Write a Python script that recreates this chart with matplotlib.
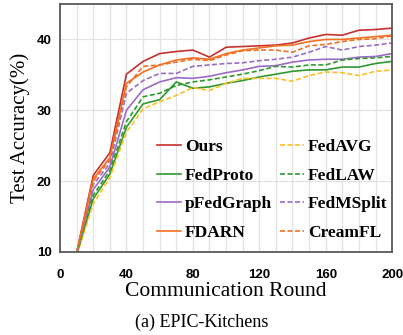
import numpy as np
import matplotlib.pyplot as plt
from matplotlib.ticker import MultipleLocator

# communication rounds
rounds = list(range(10, 201, 10))

ours = [9.9, 20.8, 24.0, 35.1, 36.9, 38.0, 38.3, 38.5, 37.5, 38.9,
        39.0, 39.1, 39.2, 39.5, 40.2, 40.7, 40.6, 41.3, 41.4, 41.6]
fedproto = [9.6, 17.5, 21.0, 27.6, 30.9, 31.5, 34.0, 33.1, 33.3, 33.8,
            34.2, 34.7, 35.1, 35.5, 35.7, 35.7, 36.1, 36.1, 36.6, 36.9]
pfedgraph = [9.7, 18.8, 22.0, 30.0, 32.9, 34.0, 34.6, 34.5, 34.8, 35.3,
             35.7, 36.2, 36.3, 36.8, 37.1, 37.2, 37.2, 37.5, 37.6, 38.0]
fdarn = [9.9, 20.3, 23.3, 33.8, 35.4, 36.4, 37.1, 37.4, 37.2, 38.0,
         38.5, 38.8, 39.1, 39.2, 39.7, 40.0, 40.0, 40.2, 40.4, 40.6]
fedavg = [9.5, 16.8, 20.5, 26.9, 30.2, 31.2, 32.1, 33.2, 32.8, 33.8,
          34.5, 34.5, 34.5, 34.1, 34.9, 35.4, 35.3, 34.9, 35.5, 35.7]
fedlaw = [9.6, 18.0, 21.5, 28.4, 31.9, 32.4, 33.5, 34.0, 34.3, 34.7,
          35.1, 35.6, 36.2, 36.1, 36.4, 36.4, 37.1, 37.3, 37.4, 37.6]
fedmsplit = [9.8, 19.5, 22.5, 32.4, 34.2, 35.2, 35.2, 36.2, 36.4, 36.6,
             36.7, 37.0, 37.2, 37.5, 38.2, 39.0, 38.5, 39.0, 39.2, 39.5]
creamfl = [9.8, 20.0, 23.0, 33.3, 36.2, 36.4, 36.8, 37.2, 37.0, 37.8,
           38.4, 38.5, 38.5, 38.2, 39.1, 39.3, 39.7, 40.0, 40.1, 40.5]

RED = '#C8302C'
GREEN = '#2E9A2E'
PURPLE = '#9B6BC8'
ORANGE = '#F27022'
YELLOW = '#FFBF1F'

fig = plt.figure(figsize=(4.03, 3.35), dpi=100)
ax = fig.add_axes([0.149, 0.248, 0.824, 0.740])

lw = 1.2
dash = (0, (3, 1.5))
ax.plot(rounds, ours, color=RED, lw=lw, label='Ours')
ax.plot(rounds, fedproto, color=GREEN, lw=lw, label='FedProto')
ax.plot(rounds, pfedgraph, color=PURPLE, lw=lw, label='pFedGraph')
ax.plot(rounds, fdarn, color=ORANGE, lw=lw, label='FDARN')
ax.plot(rounds, fedavg, color=YELLOW, lw=lw, ls=dash, label='FedAVG')
ax.plot(rounds, fedlaw, color=GREEN, lw=lw, ls=dash, label='FedLAW')
ax.plot(rounds, fedmsplit, color=PURPLE, lw=lw, ls=dash, label='FedMSplit')
ax.plot(rounds, creamfl, color=ORANGE, lw=lw, ls=dash, label='CreamFL')

ax.set_xlim(0, 200)
ax.set_ylim(10, 45)
ax.xaxis.set_major_locator(MultipleLocator(40))
ax.xaxis.set_minor_locator(MultipleLocator(10))
ax.yaxis.set_major_locator(MultipleLocator(10))

ax.grid(True, which='both', axis='x', color='#E3E3E3', lw=0.9)
ax.grid(True, which='major', axis='y', color='#E3E3E3', lw=0.9)
ax.set_axisbelow(True)

ax.tick_params(which='both', length=0, pad=6)
for lab in ax.get_xticklabels() + ax.get_yticklabels():
    lab.set_fontweight('bold')
    lab.set_fontsize(9.5)
    lab.set_family('Liberation Sans')
ax.tick_params(axis='x', pad=12)

for s in ax.spines.values():
    s.set_color('#595959')
    s.set_linewidth(1.3)

ax.set_xlabel('Communication Round', family='Liberation Serif', fontsize=15.5, labelpad=1)
ax.set_ylabel('Test Accuracy(%)', family='Liberation Serif', fontsize=15, labelpad=5)

leg = ax.legend(ncol=2, loc='lower right', bbox_to_anchor=(1.022, -0.005),
                frameon=False, handlelength=1.4, handletextpad=0.2,
                columnspacing=0.47, labelspacing=0.72, borderaxespad=0.3,
                prop={'family': 'Liberation Serif', 'weight': 'bold', 'size': 12.5})

fig.text(0.5, 0.012, '(a) EPIC-Kitchens', ha='center', va='bottom',
         family='Liberation Serif', fontsize=13)

fig.savefig('out.png', dpi=100)
